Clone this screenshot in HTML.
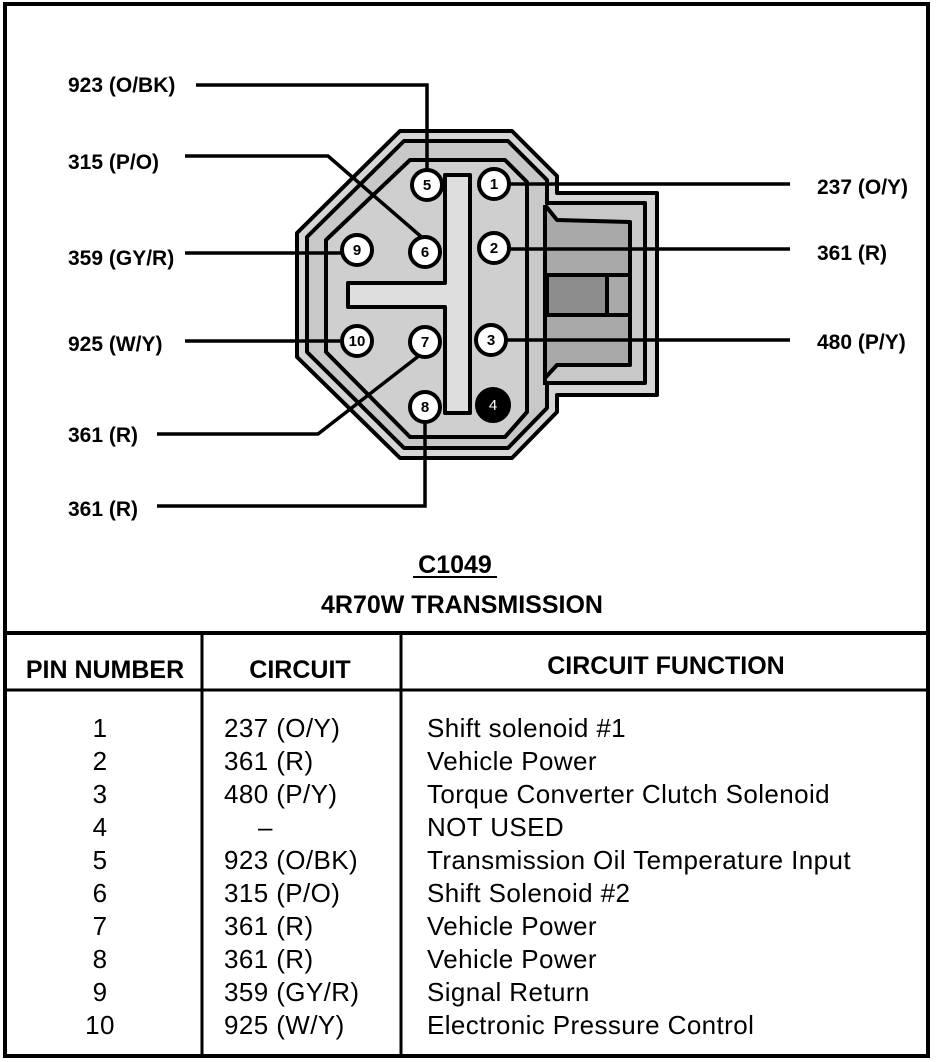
<!DOCTYPE html>
<html><head><meta charset="utf-8"><style>
html,body{margin:0;padding:0;background:#fff;}
svg{display:block;}
.lbl{font-family:"Liberation Sans",sans-serif;font-weight:bold;font-size:21px;}
.pn{font-family:"Liberation Sans",sans-serif;font-weight:bold;font-size:15px;text-anchor:middle;}
.t{font-family:"Liberation Sans",sans-serif;font-size:26px;letter-spacing:0.4px;}
.h{font-family:"Liberation Sans",sans-serif;font-weight:bold;font-size:25px;}
</style></head><body>
<svg width="944" height="1062" viewBox="0 0 944 1062" xmlns="http://www.w3.org/2000/svg">
<rect x="0" y="0" width="944" height="1062" fill="#fff"/>
<!-- frame -->
<rect x="5" y="4" width="923" height="1052" fill="none" stroke="#000" stroke-width="4"/>
<line x1="5" y1="633" x2="928" y2="633" stroke="#000" stroke-width="4"/>
<line x1="5" y1="690" x2="928" y2="690" stroke="#000" stroke-width="3"/>
<line x1="202" y1="633" x2="202" y2="1056" stroke="#000" stroke-width="3"/>
<line x1="401" y1="633" x2="401" y2="1056" stroke="#000" stroke-width="3"/>

<!-- connector -->
<g stroke="#000" stroke-width="4" stroke-linejoin="round">
<polygon points="400,131 512,131 557,176 557,193 657,193 657,395 557,395 557,412 512,458 400,458 297,357 297,233" fill="#d6d6d6"/>
<polygon points="404,141 508,141 547,180 547,203 645,203 645,383 547,383 547,408 508,448 404,448 307,352 307,237" fill="#c8c8c8"/>
<polygon points="410,160 505,160 527,182 527,412 505,437 410,437 326,352 326,240" fill="#cfcfcf"/>
<path d="M545,205 L545,385 M545,205 L557,220 L630,222 L630,365 L557,365 L545,378" fill="#a9a9a9"/>
<line x1="547" y1="275" x2="630" y2="275"/>
<line x1="547" y1="315" x2="630" y2="315"/>
<rect x="547" y="275" width="60" height="40" fill="#8c8c8c"/>
<path d="M445,175 L470,175 L470,413 L445,413 L445,307 L348,307 L348,283 L445,283 Z" fill="#dedede"/>
</g>

<!-- wires -->
<g stroke="#000" stroke-width="3.5" fill="none">
<polyline points="196,85 427,85 427,172"/>
<polyline points="185,156 328,156 425,240"/>
<line x1="185" y1="253" x2="343" y2="253"/>
<line x1="185" y1="341" x2="340" y2="341"/>
<polyline points="157,434 318,434 420,355"/>
<polyline points="157,506 425,506 425,420"/>
<line x1="507" y1="184" x2="790" y2="184"/>
<line x1="507" y1="249" x2="790" y2="249"/>
<line x1="505" y1="340" x2="790" y2="340"/>
</g>

<!-- pins -->
<g stroke="#000" stroke-width="4" fill="#fff">
<circle cx="427" cy="185" r="15"/>
<circle cx="494" cy="184" r="15"/>
<circle cx="357" cy="250" r="15"/>
<circle cx="425" cy="252" r="15"/>
<circle cx="494" cy="248" r="15"/>
<circle cx="357" cy="341" r="15"/>
<circle cx="425" cy="342" r="15"/>
<circle cx="491" cy="340" r="15"/>
<circle cx="425" cy="407" r="15"/>
<circle cx="493" cy="405" r="16" fill="#000"/>
</g>
<g class="pn">
<text x="427" y="190">5</text>
<text x="494" y="189">1</text>
<text x="357" y="255">9</text>
<text x="425" y="257">6</text>
<text x="494" y="253">2</text>
<text x="357" y="346">10</text>
<text x="425" y="347">7</text>
<text x="491" y="345">3</text>
<text x="425" y="412">8</text>
<text x="493" y="410" fill="#fff" font-weight="normal">4</text>
</g>

<!-- labels -->
<g class="lbl">
<text x="68" y="92">923 (O/BK)</text>
<text x="68" y="169">315 (P/O)</text>
<text x="68" y="265">359 (GY/R)</text>
<text x="68" y="351">925 (W/Y)</text>
<text x="68" y="442">361 (R)</text>
<text x="68" y="516">361 (R)</text>
<text x="817" y="194">237 (O/Y)</text>
<text x="817" y="260">361 (R)</text>
<text x="817" y="349">480 (P/Y)</text>
</g>

<text x="455" y="573" class="h" text-anchor="middle" font-size="24">C1049</text>
<line x1="413" y1="577" x2="497" y2="577" stroke="#000" stroke-width="2"/>
<text x="462" y="613" class="h" text-anchor="middle" font-size="26">4R70W TRANSMISSION</text>

<text x="105" y="678" class="h" text-anchor="middle" font-size="25.5">PIN NUMBER</text>
<text x="300" y="678" class="h" text-anchor="middle" font-size="26">CIRCUIT</text>
<text x="666" y="674" class="h" text-anchor="middle" font-size="26">CIRCUIT FUNCTION</text>

<g class="t">
<g text-anchor="middle">
<text x="100" y="737">1</text>
<text x="100" y="770">2</text>
<text x="100" y="803">3</text>
<text x="100" y="836">4</text>
<text x="100" y="869">5</text>
<text x="100" y="902">6</text>
<text x="100" y="935">7</text>
<text x="100" y="968">8</text>
<text x="100" y="1001">9</text>
<text x="100" y="1034">10</text>
</g>
<text x="224" y="737">237 (O/Y)</text>
<text x="224" y="770">361 (R)</text>
<text x="224" y="803">480 (P/Y)</text>
<text x="258" y="836">–</text>
<text x="224" y="869">923 (O/BK)</text>
<text x="224" y="902">315 (P/O)</text>
<text x="224" y="935">361 (R)</text>
<text x="224" y="968">361 (R)</text>
<text x="224" y="1001">359 (GY/R)</text>
<text x="224" y="1034">925 (W/Y)</text>
<text x="427" y="737">Shift solenoid #1</text>
<text x="427" y="770">Vehicle Power</text>
<text x="427" y="803">Torque Converter Clutch Solenoid</text>
<text x="427" y="836">NOT USED</text>
<text x="427" y="869">Transmission Oil Temperature Input</text>
<text x="427" y="902">Shift Solenoid #2</text>
<text x="427" y="935">Vehicle Power</text>
<text x="427" y="968">Vehicle Power</text>
<text x="427" y="1001">Signal Return</text>
<text x="427" y="1034">Electronic Pressure Control</text>
</g>
</svg>
</body></html>
